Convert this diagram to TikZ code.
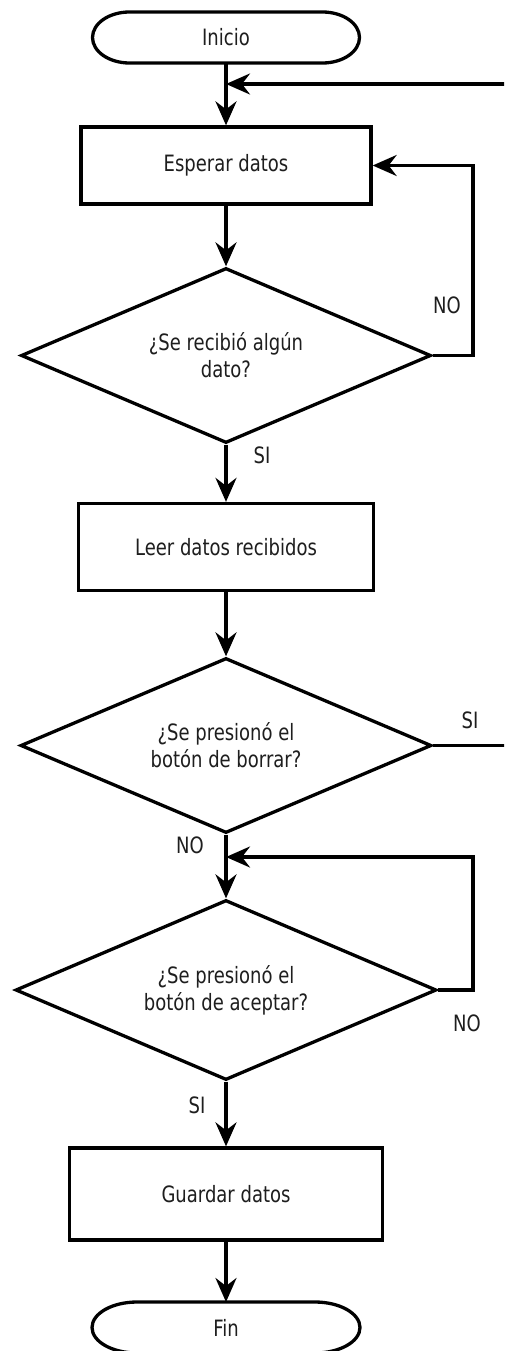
\documentclass[tikz,border=0pt]{standalone}
\usepackage{fontspec}
\setmainfont[FakeStretch=0.8]{DejaVu Sans}
\usetikzlibrary{arrows.meta,shapes.geometric,calc}
\definecolor{txt}{HTML}{1E1E1E}
\newcommand\flowfont{\fontsize{22.5}{27}\selectfont}

\begin{document}
\begin{tikzpicture}[x=1pt,y=1pt,
  proc/.style={draw, line width=3.3pt, rectangle, inner sep=0pt, text=txt, font=\flowfont},
  dec/.style={draw, line width=3.3pt, diamond, shape aspect=2.35, inner sep=0pt,
    align=center, text=txt, font=\flowfont},
  term/.style={rectangle, inner sep=0pt, outer sep=0pt, text=txt, font=\flowfont},
  termline/.style={line width=3.3pt},
  lbl/.style={text=txt, font=\flowfont, inner sep=1pt},
  flow/.style={line width=3.3pt, -{Stealth[length=24pt,width=21pt,inset=8pt]}}]

\useasboundingbox (0,0) rectangle (504,-1351);
\fill[white] (0,0) rectangle (504,-1351);
\begin{scope}
\clip (0,0) rectangle (504,-1351);

% start terminal
\node[term, minimum width=267, minimum height=51] (ini) at (226,-37.5) {Inicio};
\draw[termline] ($(ini.north west)+(37,0)$) -- ($(ini.north east)+(-37,0)$)
  arc[start angle=90, end angle=-90, x radius=37, y radius=25.5]
  -- ($(ini.south west)+(37,0)$)
  arc[start angle=270, end angle=90, x radius=37, y radius=25.5] -- cycle;

% process steps and decisions
\node[proc, minimum width=290, minimum height=77] (esp) at (226,-165.5) {Esperar datos};
\node[dec, minimum width=410, minimum height=175] (d1) at (226,-355.5) {¿Se recibió algún\\dato?};
\node[proc, minimum width=295, minimum height=87] (leer) at (226,-547) {Leer datos recibidos};
\node[dec, minimum width=411, minimum height=175] (d2) at (226,-745.5) {¿Se presionó el\\botón de borrar?};
\node[dec, minimum width=421, minimum height=180] (d3) at (226,-990) {¿Se presionó el\\botón de aceptar?};
\node[proc, minimum width=313, minimum height=92] (guar) at (226,-1194) {Guardar datos};

% end terminal
\node[term, minimum width=268, minimum height=51] (fin) at (226,-1327.5) {Fin};
\draw[termline] ($(fin.north west)+(45,0)$) -- ($(fin.north east)+(-45,0)$)
  arc[start angle=90, end angle=-90, x radius=45, y radius=25.5]
  -- ($(fin.south west)+(45,0)$)
  arc[start angle=270, end angle=90, x radius=45, y radius=25.5] -- cycle;

% branch labels
\node[lbl] (no1) at (447,-305) {NO};
\node[lbl] (si1) at (262,-455) {SI};
\node[lbl] (si2) at (470,-720) {SI};
\node[lbl] (no2) at (190,-845) {NO};
\node[lbl] (no3) at (467,-1023) {NO};
\node[lbl] (si3) at (197,-1105) {SI};

% junctions and return rails
\coordinate (j1) at (226,-84);
\coordinate (j2) at (226,-857);
\coordinate (rail) at (473,0);
\coordinate (outer) at (520,0);

% connectors
\draw[flow] (ini) -- (esp);
\draw[flow] (esp) -- (d1);
\draw[flow] (d1.east) -- (rail |- d1.east) |- (esp.east);
\draw[flow] (d1) -- (leer);
\draw[flow] (leer) -- (d2);
\draw[flow] (d2.east) -- (outer |- d2.east) |- (j1);
\draw[flow] (d2) -- (d3);
\draw[flow] (d3.east) -- (rail |- d3.east) |- (j2);
\draw[flow] (d3) -- (guar);
\draw[flow] (guar) -- (fin);
\end{scope}
\end{tikzpicture}
\end{document}
